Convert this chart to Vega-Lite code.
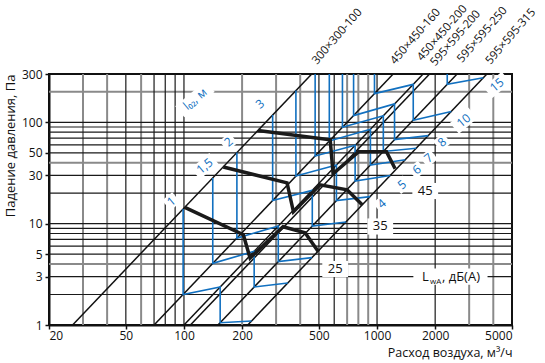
{
  "$schema": "https://vega.github.io/schema/vega-lite/v6.json",
  "width": 463,
  "height": 251,
  "autosize": {"type": "none"},
  "padding": {"left": 49, "top": 74, "right": 33, "bottom": 38},
  "background": "white",
  "config": {"font": "Open Sans", "view": {"stroke": "#111", "strokeWidth": 2}},
  "encoding": {
    "x": {"field": "q", "type": "quantitative", "scale": {"type": "log", "domain": [20, 5000], "nice": false},
      "axis": {"values": [20, 50, 100, 200, 500, 1000, 2000, 5000], "format": "d", "grid": false, "domainColor": "#111", "domainWidth": 2, "tickColor": "#111", "tickSize": 4, "tickWidth": 1.5, "labelFontSize": 12, "labelColor": "#111", "labelPadding": 1, "title": "Расход воздуха, м³/ч", "titleAnchor": "end", "titleFontWeight": "normal", "titleFontSize": 12.5, "titleColor": "#111", "titlePadding": 5}},
    "y": {"field": "p", "type": "quantitative", "scale": {"type": "log", "domain": [1, 300], "nice": false},
      "axis": {"values": [1, 3, 5, 10, 30, 50, 100, 300], "format": "d", "grid": false, "domainColor": "#111", "domainWidth": 2, "tickColor": "#111", "tickSize": 4, "tickWidth": 1.5, "labelFontSize": 12, "labelColor": "#111", "labelPadding": 3, "title": "Падение давления, Па", "titleAnchor": "end", "titleFontWeight": "normal", "titleFontSize": 13, "titleColor": "#111", "titlePadding": 4}}
  },
  "datasets": {
    "gx_gray": [{"q": 30}, {"q": 40}, {"q": 60}, {"q": 200}, {"q": 300}, {"q": 400}, {"q": 700}, {"q": 800}, {"q": 900}, {"q": 3000}, {"q": 4000}],
    "gx_black": [{"q": 50}, {"q": 70}, {"q": 80}, {"q": 90}, {"q": 100}, {"q": 500}, {"q": 600}, {"q": 1000}, {"q": 2000}],
    "gy_gray": [{"p": 4}, {"p": 40}, {"p": 200}],
    "gy_black": [{"p": 2}, {"p": 3}, {"p": 5}, {"p": 6}, {"p": 7}, {"p": 8}, {"p": 9}, {"p": 10}, {"p": 20}, {"p": 30}, {"p": 50}, {"p": 60}, {"p": 70}, {"p": 80}, {"p": 90}, {"p": 100}],
    "diag": [
      {"id": "d1", "q": 26.5, "p": 1}, {"id": "d1", "q": 459, "p": 300},
      {"id": "d2", "q": 70, "p": 1}, {"id": "d2", "q": 1212, "p": 300},
      {"id": "d3", "q": 100, "p": 1}, {"id": "d3", "q": 1732, "p": 300},
      {"id": "d4", "q": 108, "p": 1}, {"id": "d4", "q": 1871, "p": 300},
      {"id": "d5", "q": 150, "p": 1}, {"id": "d5", "q": 2598, "p": 300},
      {"id": "d6", "q": 214, "p": 1}, {"id": "d6", "q": 3707, "p": 300}
    ],
    "blue": [
      {"id": "v1", "i": 0, "q": 99, "p": 13.96}, {"id": "v1", "i": 1, "q": 99, "p": 2.0}, {"id": "v1", "i": 2, "q": 154, "p": 2.37}, {"id": "v1", "i": 3, "q": 154, "p": 1.054}, {"id": "v1", "i": 4, "q": 224, "p": 1.096},
      {"id": "v15", "i": 0, "q": 141, "p": 28.3}, {"id": "v15", "i": 1, "q": 141, "p": 4.06}, {"id": "v15", "i": 2, "q": 231, "p": 5.34}, {"id": "v15", "i": 3, "q": 231, "p": 2.37}, {"id": "v15", "i": 4, "q": 345, "p": 2.6},
      {"id": "v2", "i": 0, "q": 188, "p": 50.3}, {"id": "v2", "i": 1, "q": 188, "p": 7.21}, {"id": "v2", "i": 2, "q": 308, "p": 9.49}, {"id": "v2", "i": 3, "q": 308, "p": 4.22}, {"id": "v2", "i": 4, "q": 460, "p": 4.62},
      {"id": "v3", "i": 0, "q": 288, "p": 118}, {"id": "v3", "i": 1, "q": 288, "p": 16.9}, {"id": "v3", "i": 2, "q": 462, "p": 21.3}, {"id": "v3", "i": 3, "q": 462, "p": 9.49}, {"id": "v3", "i": 4, "q": 690, "p": 10.4},
      {"id": "v4", "i": 0, "q": 380, "p": 206}, {"id": "v4", "i": 1, "q": 380, "p": 29.5}, {"id": "v4", "i": 2, "q": 616, "p": 37.9}, {"id": "v4", "i": 3, "q": 616, "p": 16.9}, {"id": "v4", "i": 4, "q": 921, "p": 18.5},
      {"id": "v5", "i": 0, "q": 478, "p": 400}, {"id": "v5", "i": 1, "q": 478, "p": 46.6}, {"id": "v5", "i": 2, "q": 770, "p": 59.3}, {"id": "v5", "i": 3, "q": 770, "p": 26.4}, {"id": "v5", "i": 4, "q": 1170, "p": 29.9},
      {"id": "v6", "i": 0, "q": 566, "p": 472}, {"id": "v6", "i": 1, "q": 566, "p": 65.4}, {"id": "v6", "i": 2, "q": 924, "p": 85.4}, {"id": "v6", "i": 3, "q": 924, "p": 37.9}, {"id": "v6", "i": 4, "q": 1400, "p": 42.8},
      {"id": "v7", "i": 0, "q": 662, "p": 643}, {"id": "v7", "i": 1, "q": 662, "p": 89.4}, {"id": "v7", "i": 2, "q": 1078, "p": 116}, {"id": "v7", "i": 3, "q": 1078, "p": 51.6}, {"id": "v7", "i": 4, "q": 1596, "p": 55.6},
      {"id": "v8", "i": 0, "q": 756, "p": 840}, {"id": "v8", "i": 1, "q": 756, "p": 116.6}, {"id": "v8", "i": 2, "q": 1232, "p": 152}, {"id": "v8", "i": 3, "q": 1232, "p": 67.5}, {"id": "v8", "i": 4, "q": 1841, "p": 74},
      {"id": "v10", "i": 0, "q": 970, "p": 1312}, {"id": "v10", "i": 1, "q": 970, "p": 192}, {"id": "v10", "i": 2, "q": 1540, "p": 237}, {"id": "v10", "i": 3, "q": 1540, "p": 105}, {"id": "v10", "i": 4, "q": 2425, "p": 128},
      {"id": "v20", "i": 0, "q": 1440, "p": 2953}, {"id": "v20", "i": 1, "q": 1440, "p": 423}, {"id": "v20", "i": 2, "q": 2310, "p": 534}, {"id": "v20", "i": 3, "q": 2310, "p": 237}, {"id": "v20", "i": 4, "q": 3552, "p": 275}
    ],
    "thick": [
      {"id": "L25", "i": 0, "q": 101, "p": 14.5}, {"id": "L25", "i": 1, "q": 203, "p": 7.77}, {"id": "L25", "i": 2, "q": 220, "p": 4.58}, {"id": "L25", "i": 3, "q": 326, "p": 9.32}, {"id": "L25", "i": 4, "q": 424, "p": 8.13}, {"id": "L25", "i": 5, "q": 497, "p": 5.28},
      {"id": "L35", "i": 0, "q": 160, "p": 36.3}, {"id": "L35", "i": 1, "q": 342, "p": 25.3}, {"id": "L35", "i": 2, "q": 369, "p": 13.1}, {"id": "L35", "i": 3, "q": 507, "p": 24.2}, {"id": "L35", "i": 4, "q": 700, "p": 21.6}, {"id": "L35", "i": 5, "q": 838, "p": 15.4},
      {"id": "L45", "i": 0, "q": 242, "p": 83}, {"id": "L45", "i": 1, "q": 572, "p": 67.2}, {"id": "L45", "i": 2, "q": 592, "p": 31.1}, {"id": "L45", "i": 3, "q": 801, "p": 51.2}, {"id": "L45", "i": 4, "q": 1119, "p": 51.2}, {"id": "L45", "i": 5, "q": 1241, "p": 34.8}
    ],
    "sizes": [
      {"label": "300×300-100", "q": 488, "p": 369},
      {"label": "450×450-160", "q": 1242, "p": 369},
      {"label": "450×450-200", "q": 1709, "p": 398},
      {"label": "595×595-200", "q": 2004, "p": 355},
      {"label": "595×595-250", "q": 2756, "p": 383},
      {"label": "595×595-315", "q": 3866, "p": 369}
    ],
    "bluelab": [
      {"label": "l₀₂, м", "q": 114, "p": 170},
      {"label": "1", "q": 86, "p": 16.6},
      {"label": "1,5", "q": 128, "p": 37},
      {"label": "2", "q": 170, "p": 64},
      {"label": "3", "q": 248, "p": 152},
      {"label": "4", "q": 1060, "p": 15.7},
      {"label": "5", "q": 1346, "p": 24.2},
      {"label": "6", "q": 1609, "p": 34},
      {"label": "7", "q": 1849, "p": 44.4},
      {"label": "8", "q": 2170, "p": 63.8},
      {"label": "10", "q": 2809, "p": 104},
      {"label": "15", "q": 4183, "p": 234}
    ],
    "lwalab": [
      {"label": "25", "q": 607, "p": 3.57},
      {"label": "35", "q": 1039, "p": 9.38},
      {"label": "45", "q": 1777, "p": 21}
    ],
    "lwaname": [{"q": 1708, "p": 3.0}],
    "lwabox": [{"q": 2400, "p": 3.0}]
  },
  "layer": [
    {"data": {"name": "gx_gray"}, "mark": {"type": "rule", "color": "#8a8a8a", "strokeWidth": 2}, "encoding": {"y": {"value": 0}, "y2": {"value": "height"}}},
    {"data": {"name": "gy_gray"}, "mark": {"type": "rule", "color": "#8a8a8a", "strokeWidth": 2}, "encoding": {"x": {"value": 0}, "x2": {"value": "width"}}},
    {"data": {"name": "gx_black"}, "mark": {"type": "rule", "color": "#1a1a1a", "strokeWidth": 1.2}, "encoding": {"y": {"value": 0}, "y2": {"value": "height"}}},
    {"data": {"name": "gy_black"}, "mark": {"type": "rule", "color": "#1a1a1a", "strokeWidth": 1.2}, "encoding": {"x": {"value": 0}, "x2": {"value": "width"}}},
    {"data": {"name": "diag"}, "mark": {"type": "line", "color": "#111", "strokeWidth": 1.5, "clip": true}, "encoding": {"detail": {"field": "id"}}},
    {"data": {"name": "blue"}, "mark": {"type": "line", "color": "#1170c0", "strokeWidth": 1.6, "clip": true}, "encoding": {"detail": {"field": "id"}, "order": {"field": "i"}}},
    {"data": {"name": "thick"}, "mark": {"type": "line", "color": "#1a1a1a", "strokeWidth": 3.5, "clip": true}, "encoding": {"detail": {"field": "id"}, "order": {"field": "i"}}},
    {"data": {"name": "bluelab"}, "transform": [{"filter": "length(datum.label) == 1"}], "mark": {"type": "point", "shape": "square", "filled": true, "color": "white", "opacity": 1, "size": 170, "angle": -40}},
    {"data": {"name": "bluelab"}, "transform": [{"filter": "length(datum.label) > 1 && length(datum.label) < 5"}], "mark": {"type": "point", "shape": "M-1.7,-1H1.7V1H-1.7Z", "filled": true, "color": "white", "opacity": 1, "size": 200, "angle": -40}},
    {"data": {"name": "bluelab"}, "transform": [{"filter": "length(datum.label) >= 5"}], "mark": {"type": "point", "shape": "M-2.8,-1H2.8V1H-2.8Z", "filled": true, "color": "white", "opacity": 1, "size": 200, "angle": -40}},
    {"data": {"name": "bluelab"}, "mark": {"type": "text", "fontSize": 12, "angle": -40, "align": "center", "baseline": "middle", "color": "#1170c0"}, "encoding": {"text": {"field": "label"}}},
    {"data": {"name": "lwalab"}, "mark": {"type": "point", "shape": "M-1.6,-1H1.6V1H-1.6Z", "filled": true, "color": "white", "opacity": 1, "size": 260}},
    {"data": {"name": "lwalab"}, "mark": {"type": "text", "fontSize": 13, "align": "center", "baseline": "middle", "color": "#111"}, "encoding": {"text": {"field": "label"}}},
    {"data": {"name": "lwabox"}, "mark": {"type": "point", "shape": "M-4.6,-1H4.6V1H-4.6Z", "filled": true, "color": "white", "opacity": 1, "size": 260}},
    {"data": {"name": "lwaname"}, "mark": {"type": "text", "fontSize": 13, "align": "left", "baseline": "middle", "color": "#111", "text": "L"}},
    {"data": {"name": "lwaname"}, "mark": {"type": "text", "fontSize": 8, "align": "left", "baseline": "middle", "color": "#111", "text": "wA", "dx": 8, "dy": 5}},
    {"data": {"name": "lwaname"}, "mark": {"type": "text", "fontSize": 13, "align": "left", "baseline": "middle", "color": "#111", "text": ", дБ(A)", "dx": 20}},
    {"data": {"name": "sizes"}, "mark": {"type": "text", "fontSize": 11.5, "angle": -49, "align": "left", "baseline": "alphabetic", "color": "#111"}, "encoding": {"text": {"field": "label"}}}
  ]
}
